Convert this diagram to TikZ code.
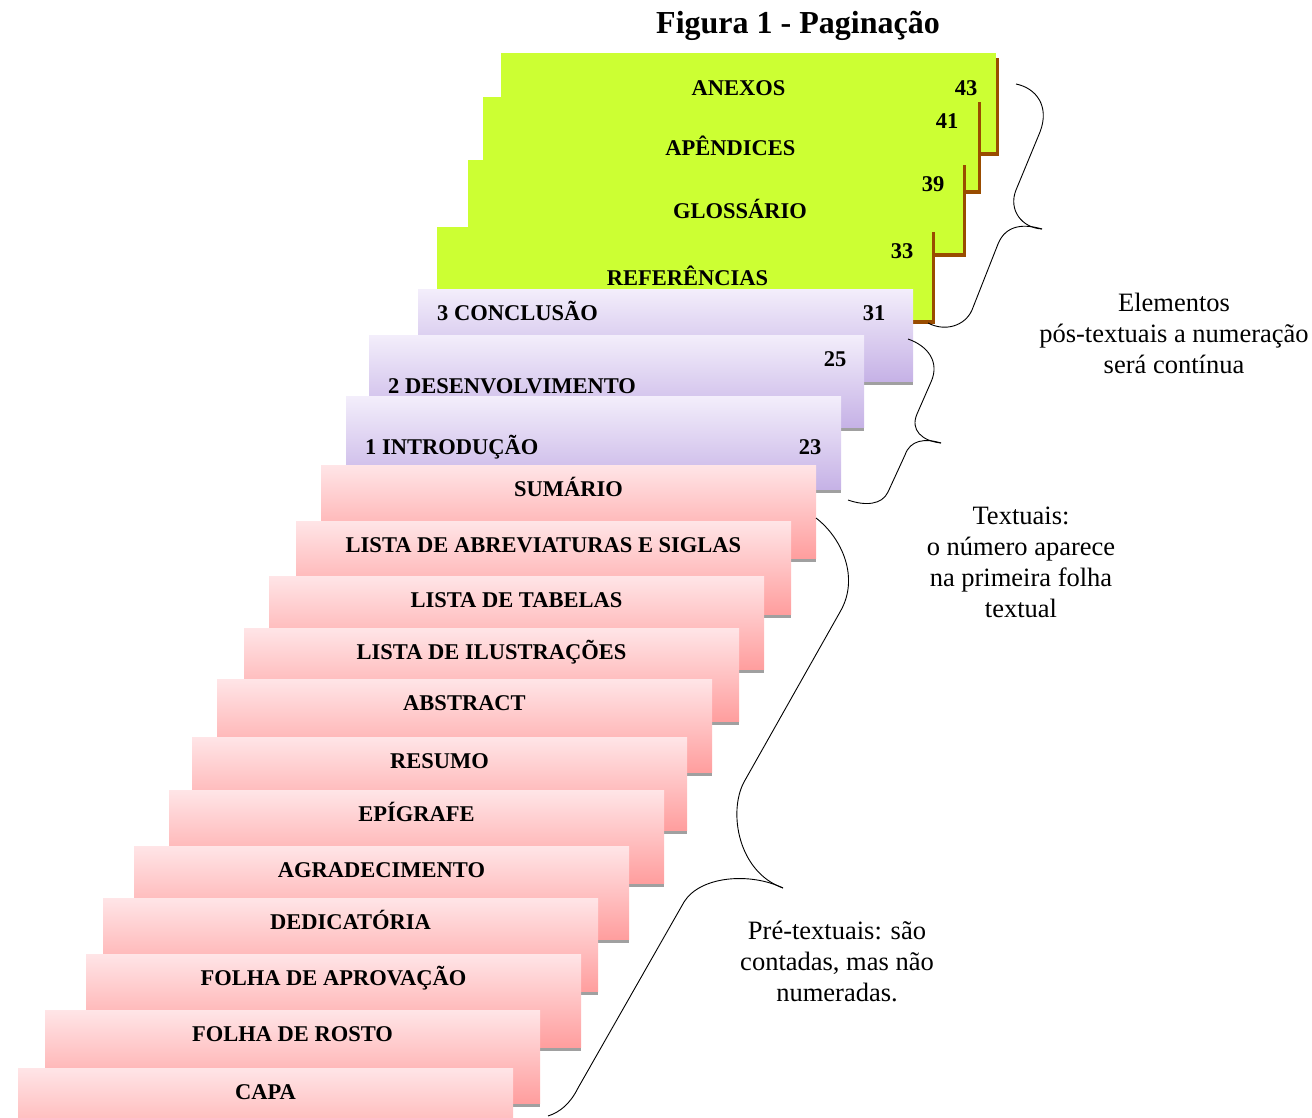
\documentclass[tikz,border=0pt]{standalone}
\usepackage{fontspec}
\setmainfont{Liberation Serif}
\definecolor{pinkT}{RGB}{255,229,231}
\definecolor{pinkB}{RGB}{255,158,158}
\definecolor{purT}{RGB}{243,238,251}
\definecolor{purB}{RGB}{198,178,230}
\definecolor{grn}{RGB}{204,255,51}
\definecolor{brn}{RGB}{153,76,0}
\definecolor{shgray}{RGB}{160,160,160}
\newcommand\gcard[3]{%
  \fill[brn] (#1+3,#2+5) rectangle (#1+498,#3+4);
  \fill[grn] (#1,#2) rectangle (#1+495,#3);}
\newcommand\vcard[3]{%
  \fill[shgray] (#1,#2+4) rectangle (#1+495,#3+4);
  \shade[top color=purT, bottom color=purB] (#1,#2) rectangle (#1+495,#3);}
\begin{document}
\begin{tikzpicture}[x=1pt,y=-1pt,
  lbl/.style={font=\fontsize{22.5}{27}\selectfont\bfseries, inner sep=0pt, anchor=base},
  ttl/.style={font=\fontsize{32}{38}\selectfont\bfseries, inner sep=0pt, anchor=base},
  note/.style={font=\fontsize{26.5}{31}\selectfont, align=center, inner sep=0pt},
  brace/.style={line width=0.9pt, black}]
\useasboundingbox (0,0) rectangle (1312,1117);

\node[ttl] (title) at (798,33) {Figura 1 - Paginação};

% green (post-textual) cards
\gcard{501}{53}{152}
\node[lbl] (anexos) at (738.5,95.5) {ANEXOS};
\node[lbl] (n43) at (966,95.5) {43};
\gcard{483}{97}{190}
\node[lbl] (apendices) at (730.5,155.5) {APÊNDICES};
\node[lbl] (n41) at (947,128.5) {41};
\gcard{468}{160}{253}
\node[lbl] (glossario) at (740,218.5) {GLOSSÁRIO};
\node[lbl] (n39) at (933,191.5) {39};
\gcard{437}{227}{320}
\node[lbl] (referencias) at (687.5,285.5) {REFERÊNCIAS};
\node[lbl] (n33) at (902,258.5) {33};

% purple (textual) cards
\vcard{418}{289}{381}
\node[lbl, anchor=base west] (conclusao) at (437,320.5) {3 CONCLUSÃO};
\node[lbl] (n31) at (874,320.5) {31};
\vcard{369}{335}{427}
\node[lbl, anchor=base west] (desenv) at (388,393.5) {2 DESENVOLVIMENTO};
\node[lbl] (n25) at (835,366.5) {25};
\vcard{346}{396}{489}
\node[lbl, anchor=base west] (intro) at (365,454.5) {1 INTRODUÇÃO};
\node[lbl] (n23) at (810,454.5) {23};

% pink (pre-textual) cards
\foreach \n/\l/\t/\txt in {
  sumario/321/465/SUMÁRIO,
  abrev/296/521/LISTA DE ABREVIATURAS E SIGLAS,
  tabelas/269/576/LISTA DE TABELAS,
  ilustr/244/628/LISTA DE ILUSTRAÇÕES,
  abstract/217/679/ABSTRACT,
  resumo/192/737/RESUMO,
  epigrafe/169/790/EPÍGRAFE,
  agrad/134/846/AGRADECIMENTO,
  dedic/103/898/DEDICATÓRIA,
  aprov/86/954/FOLHA DE APROVAÇÃO,
  rosto/45/1010/FOLHA DE ROSTO,
  capa/18/1068/CAPA}{
  \fill[shgray] (\l,\t+4) rectangle (\l+495,\t+97);
  \shade[top color=pinkT, bottom color=pinkB] (\l,\t) rectangle (\l+495,\t+93);
  \node[lbl] (\n) at (\l+247.5,\t+31.5) {\txt};
}

% braces
\draw[brace] (1016,84) .. controls (1036,88) and (1050,106) .. (1040,132)
  -- (1016,190) .. controls (1008,210) and (1022,228) .. (1042,229);
\draw[brace] (1042,229) .. controls (1025,224) and (1006,224) .. (998,244)
  -- (972,310) .. controls (965,326) and (945,332) .. (928,323);

\draw[brace] (908,339) .. controls (928,346) and (940,362) .. (931,382)
  -- (917,414) .. controls (910,430) and (922,441) .. (941,443);
\draw[brace] (941,443) .. controls (925,438) and (910,440) .. (905,455)
  -- (888,492) .. controls (882,505) and (865,506) .. (848,500);

\draw[brace] (816,518) .. controls (842,538) and (860,578) .. (840,612)
  -- (744,782) .. controls (728,812) and (738,872) .. (783,888);
\draw[brace] (783,888) .. controls (750,872) and (700,876) .. (684,902)
  -- (578,1088) .. controls (570,1104) and (560,1112) .. (548,1116);

% notes
\node[note] (posnote) at (1174,333) {Elementos\\pós-textuais a numeração\\será contínua};
\node[note] (txtnote) at (1021,562) {Textuais:\\o número aparece\\na primeira folha\\textual};
\node[note] (prenote) at (837,961) {Pré-textuais: são\\contadas, mas não\\numeradas.};
\end{tikzpicture}
\end{document}
